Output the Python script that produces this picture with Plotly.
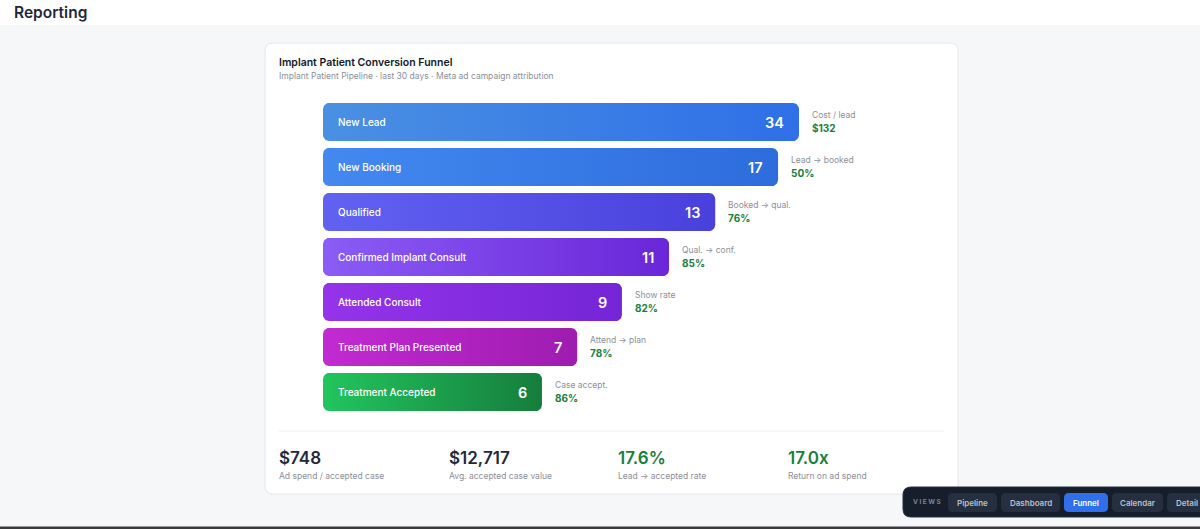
import numpy as np
import plotly.graph_objects as go

# ---- data ----
stages = ["New Lead", "New Booking", "Qualified", "Confirmed Implant Consult",
          "Attended Consult", "Treatment Plan Presented", "Treatment Accepted"]
counts = [34, 17, 13, 11, 9, 7, 6]
# displayed bar length, % of the widest bar (the funnel is not drawn to scale)
bar_len = [100, 95.6, 82.4, 72.7, 62.8, 53.4, 46.0]
step_labels = ["Cost / lead", "Lead → booked", "Booked → qual.", "Qual. → conf.",
               "Show rate", "Attend → plan", "Case accept."]
step_values = ["$132", "50%", "76%", "85%", "82%", "78%", "86%"]

kpi_values = ["$748", "$12,717", "17.6%", "17.0x"]
kpi_labels = ["Ad spend / accepted case", "Avg. accepted case value",
              "Lead → accepted rate", "Return on ad spend"]
kpi_green = [False, False, True, True]

views = ["Pipeline", "Dashboard", "Funnel", "Calendar", "Detail"]
active_view = "Funnel"

# ---- styles ----
W, H = 1200, 529
FONT = "Inter"
bar_colors = [
    ("#4a90e2", "#2f6fe8"),
    ("#4389f0", "#2d6cdc"),
    ("#6162f2", "#4a40dc"),
    ("#8b5cf6", "#6a26d8"),
    ("#9534ea", "#7425d6"),
    ("#c22ad2", "#9e1cb0"),
    ("#22c55e", "#167d3c"),
]
GREEN = "#17803d"
GRAY = "#8b9099"
DARK = "#1f2937"

# plot area in pixels
bar_left, bar_right = 323, 799
rows_top, row_h, bar_h = 99.5, 45, 38
rows_bottom = rows_top + row_h * len(stages)


def px(x):
    return x / W


def py(y):
    return 1 - y / H


def rrect(x0, y0, x1, y1, r):
    """rounded rect path in paper coords from pixel box"""
    return (f"M{px(x0 + r)},{py(y0)} L{px(x1 - r)},{py(y0)} Q{px(x1)},{py(y0)} {px(x1)},{py(y0 + r)} "
            f"L{px(x1)},{py(y1 - r)} Q{px(x1)},{py(y1)} {px(x1 - r)},{py(y1)} "
            f"L{px(x0 + r)},{py(y1)} Q{px(x0)},{py(y1)} {px(x0)},{py(y1 - r)} "
            f"L{px(x0)},{py(y0 + r)} Q{px(x0)},{py(y0)} {px(x0 + r)},{py(y0)} Z")


def rounded_bar(x1, yc, half, rx, ry, n=10):
    corners = [(x1 - rx, yc - half + ry, -90, 0), (x1 - rx, yc + half - ry, 0, 90),
               (rx, yc + half - ry, 90, 180), (rx, yc - half + ry, 180, 270)]
    xs, ys = [], []
    for cx, cy, a0, a1 in corners:
        t = np.radians(np.linspace(a0, a1, n))
        xs += list(cx + rx * np.cos(t))
        ys += list(cy + ry * np.sin(t))
    return xs + [xs[0]], ys + [ys[0]]


def label(x, y, text, size, color, weight=400, xanchor="left"):
    return dict(x=px(x), y=py(y), xref="paper", yref="paper", xanchor=xanchor,
                yanchor="middle", text=text, showarrow=False, borderpad=0, borderwidth=0,
                font=dict(family=FONT, size=size, color=color, weight=weight))


fig = go.Figure()

# data units per pixel
ux = 100 / (bar_right - bar_left)
uy = len(stages) / (rows_bottom - rows_top)
radius = 6
half = bar_h / row_h / 2

for i, (v, c) in enumerate(zip(bar_len, bar_colors)):
    xs, ys = rounded_bar(v, i, half, radius * ux, radius * uy)
    fig.add_trace(go.Scatter(
        x=xs, y=ys, mode="lines", fill="toself",
        fillgradient=dict(type="horizontal", colorscale=[[0, c[0]], [1, c[1]]]),
        line=dict(width=0, color="rgba(0,0,0,0)"),
        hoverinfo="skip", showlegend=False,
    ))

annotations = []
for i in range(len(stages)):
    common = dict(y=i, xref="x", yref="y", yanchor="middle", showarrow=False,
                  borderpad=0, borderwidth=0)
    annotations.append(dict(x=0, xanchor="left", xshift=15, text=stages[i],
                            font=dict(family=FONT, size=10, color="white", weight=500), **common))
    annotations.append(dict(x=bar_len[i], xanchor="right", xshift=-15, text=str(counts[i]),
                            font=dict(family=FONT, size=14.5, color="white", weight=600), **common))
    annotations.append(dict(x=bar_len[i], xanchor="left", xshift=13, yshift=7, text=step_labels[i],
                            font=dict(family=FONT, size=8.5, color=GRAY), **common))
    annotations.append(dict(x=bar_len[i], xanchor="left", xshift=13, yshift=-6, text=step_values[i],
                            font=dict(family=FONT, size=10, color=GREEN, weight=700), **common))

# header and card text
annotations += [
    label(14, 12.5, "Reporting", 15.5, DARK, 600),
    label(279, 62, "Implant Patient Conversion Funnel", 10.5, "#111827", 600),
    label(279, 76, "Implant Patient Pipeline · last 30 days · Meta ad campaign attribution",
          8.5, GRAY),
]

kpi_x0, kpi_step = 279, 169.5
for k, (val, lab) in enumerate(zip(kpi_values, kpi_labels)):
    x = kpi_x0 + k * kpi_step
    annotations.append(label(x, 458, val, 17, GREEN if kpi_green[k] else DARK, 600))
    annotations.append(label(x, 476, lab, 8.5, GRAY))

shapes = [
    # white top bar
    dict(type="rect", xref="paper", yref="paper", x0=0, x1=1, y0=py(25), y1=1,
         fillcolor="white", line_width=0, layer="below"),
    # card
    dict(type="path", xref="paper", yref="paper", path=rrect(265, 43, 958, 494, 8),
         fillcolor="white", line=dict(color="#e4e6ea", width=1), layer="below"),
    # divider above KPIs
    dict(type="line", xref="paper", yref="paper", x0=px(279), x1=px(944), y0=py(431), y1=py(431),
         line=dict(color="#eceef1", width=1)),
    # bottom window edge
    dict(type="rect", xref="paper", yref="paper", x0=0, x1=1, y0=0, y1=py(526.5),
         fillcolor="#3a3b3d", line_width=0),
    # views toolbar
    dict(type="path", xref="paper", yref="paper", path=rrect(903, 487, 1215, 517, 8),
         fillcolor="#161d2b", line=dict(color="#263041", width=1)),
]

annotations.append(label(913, 502, "V I E W S", 6.5, "#7a8394", 700))
view_x = [(948, 997), (1001, 1060), (1064, 1108), (1112, 1163), (1167, 1215)]
for name, (x0, x1) in zip(views, view_x):
    on = name == active_view
    shapes.append(dict(type="path", xref="paper", yref="paper", path=rrect(x0, 493, x1, 512, 5),
                       fillcolor="#2f6fea" if on else "#262f40", line_width=0))
    if name == "Detail":
        annotations.append(label(x0 + 9, 502.5, name, 8, "#b9c1cd", 600))
    else:
        annotations.append(label((x0 + x1) / 2, 502.5, name, 8,
                                 "white" if on else "#b9c1cd", 600, xanchor="center"))

fig.update_layout(
    width=W, height=H,
    margin=dict(l=0, r=0, t=0, b=0),
    paper_bgcolor="#f6f7f9",
    plot_bgcolor="rgba(0,0,0,0)",
    xaxis=dict(domain=[px(bar_left), px(bar_right)], range=[0, 100], visible=False,
               fixedrange=True),
    yaxis=dict(domain=[py(rows_bottom), py(rows_top)], range=[len(stages) - 0.5, -0.5],
               visible=False, fixedrange=True),
    shapes=shapes,
    annotations=annotations,
    showlegend=False,
)

fig.write_html("out.html", config={"displayModeBar": False},
               post_script="document.body.style.margin='0';document.body.style.overflow='hidden';")
